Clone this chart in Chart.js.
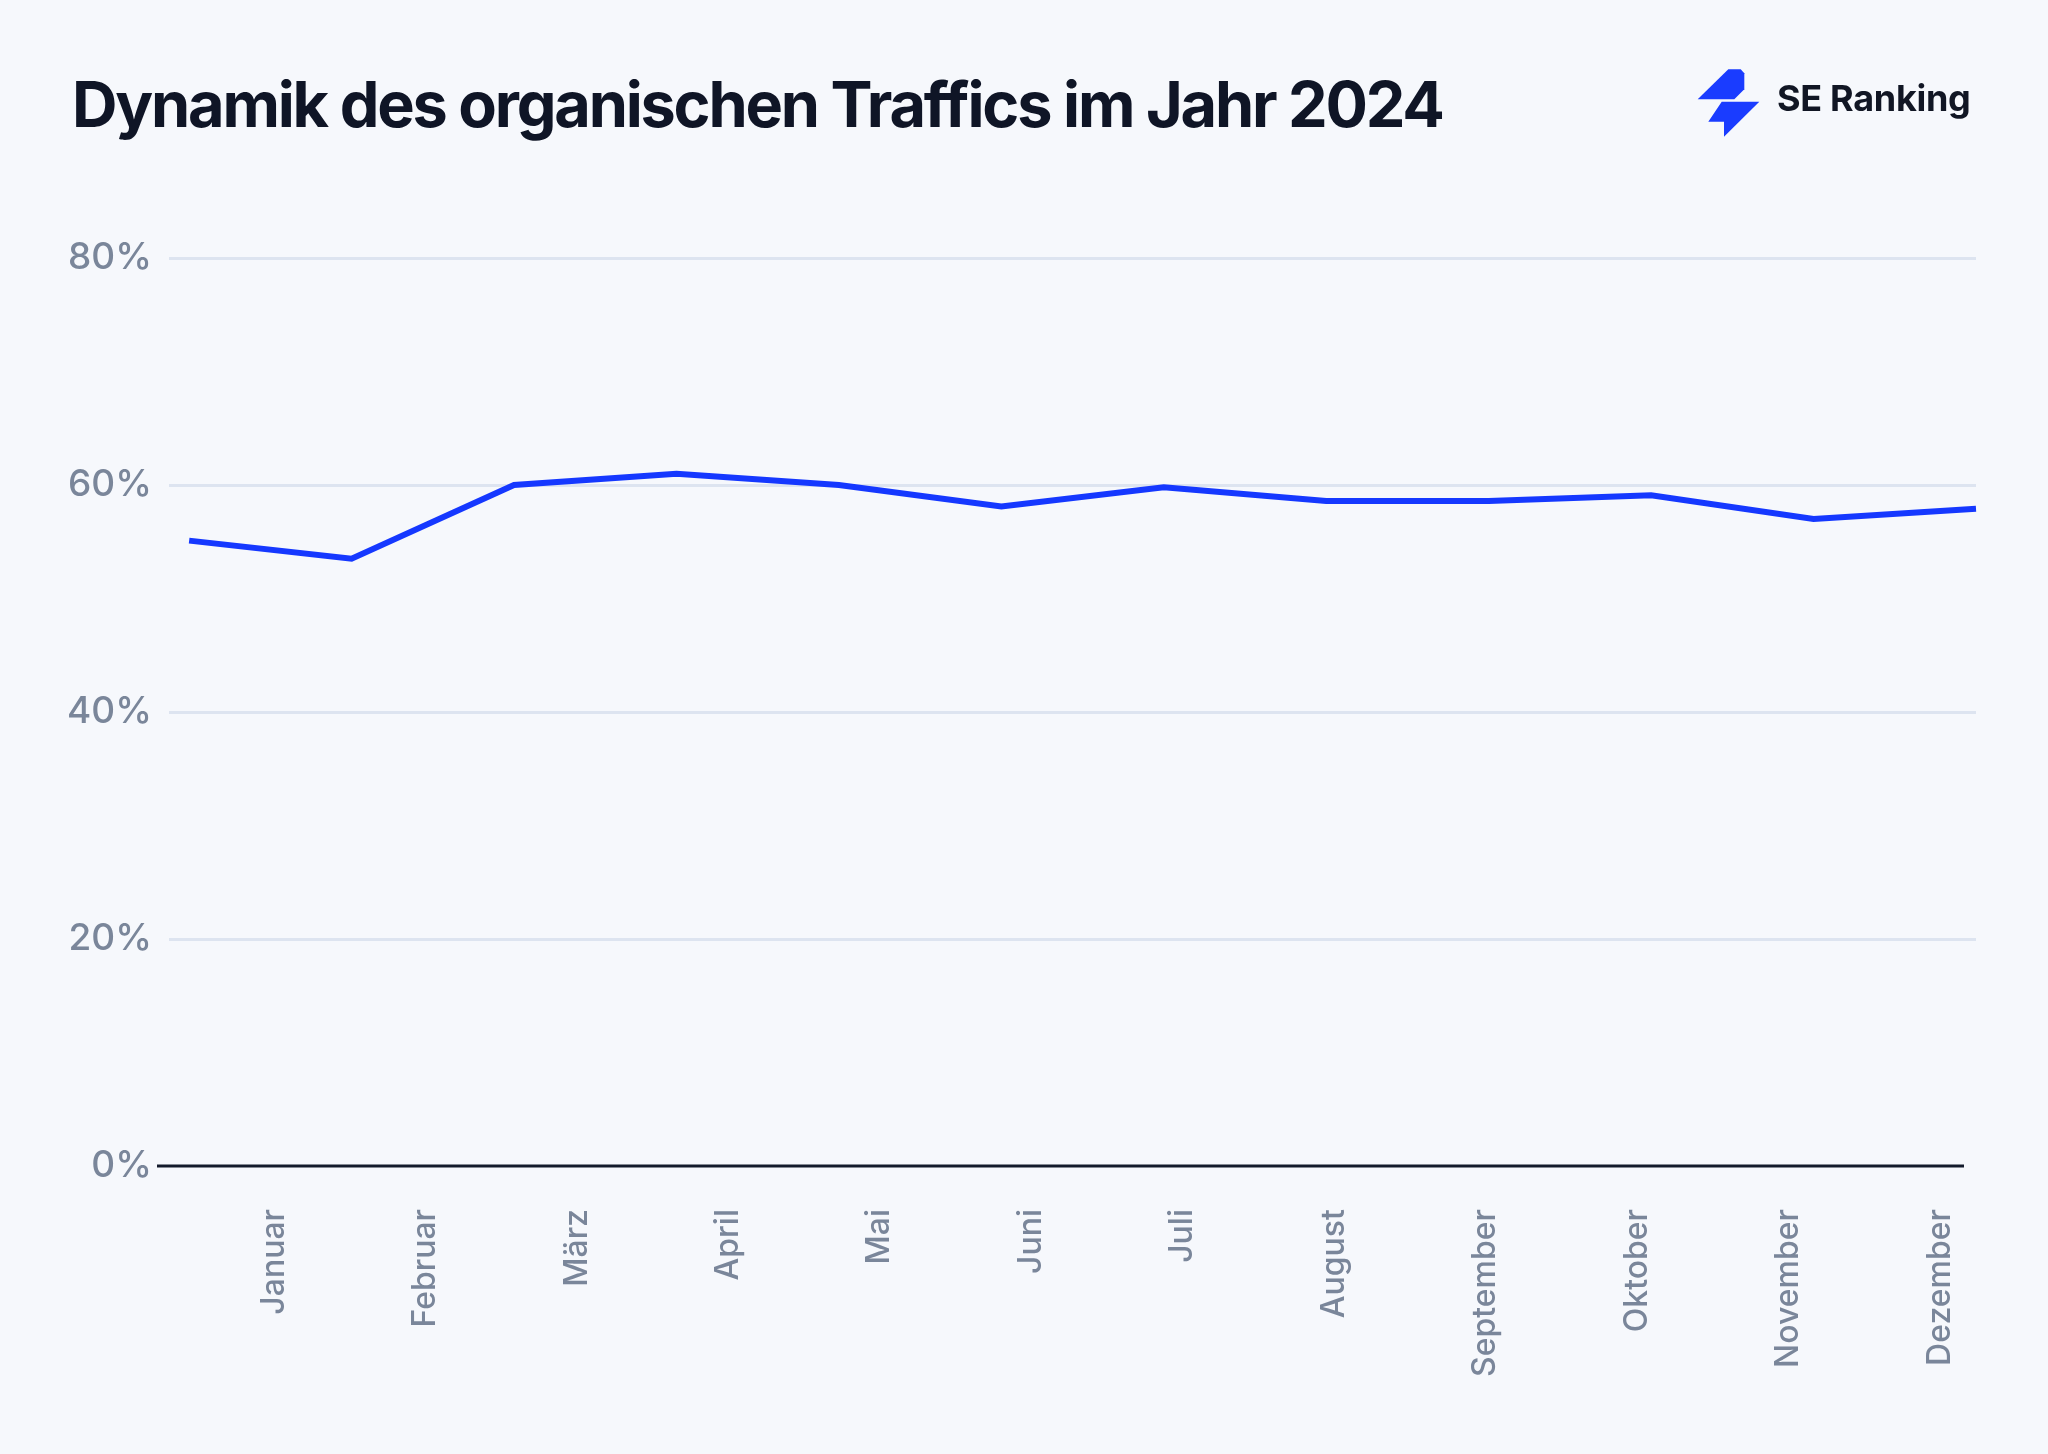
<!DOCTYPE html>
<html>
<head>
<meta charset="utf-8">
<script src="https://cdn.jsdelivr.net/npm/chart.js@4.4.1/dist/chart.umd.min.js"></script>
<style>
  body { margin: 0; background: #f6f8fc; }
  #wrap { position: relative; width: 2048px; height: 1454px; background: #f6f8fc; overflow: hidden; }
  #title {
    position: absolute; left: 72px; top: 73px;
    font: 700 63px/63px Inter, sans-serif; color: #0f1526; letter-spacing: -2.2px;
    white-space: nowrap;
  }
  #brand {
    position: absolute; left: 1777px; top: 80px;
    font: 700 36px/36px Inter, sans-serif; color: #111624; letter-spacing: -0.3px; white-space: nowrap;
  }
  #logo { position: absolute; left: 0; top: 0; }
  canvas { position: absolute; left: 0; top: 0; }
</style>
</head>
<body>
<div id="wrap">
  <canvas id="trafficChart" width="2048" height="1454"></canvas>
  <div id="title">Dynamik des organischen Traffics im Jahr 2024</div>
  <svg id="logo" width="2048" height="160">
    <polygon fill="#1a3cff" points="1697.7,99.3 1728.3,69.3 1740.7,69.3 1744.3,73.3 1744.3,89.3 1734.3,99.3"/>
    <polygon fill="#1a3cff" points="1721.7,101.7 1759.3,101.7 1724,136.7 1724,121.7 1708.3,121.7"/>
  </svg>
  <div id="brand">SE Ranking</div>
</div>
<script>
// Monatswerte (%)
var months = ['Januar', 'Februar', 'März', 'April', 'Mai', 'Juni', 'Juli',
              'August', 'September', 'Oktober', 'November', 'Dezember'];
var traffic = [55.1, 53.5, 60.0, 61.0, 60.0, 58.1, 59.8, 58.6, 58.6, 59.1, 57.0, 57.9];
var yTicks = [0, 20, 40, 60, 80];

Chart.defaults.font.family = 'Inter, sans-serif';

// dunkle Nulllinie, leicht nach links versetzt wie im Original
var baseline = {
	id: 'baseline',
	beforeDatasetsDraw: function(chart) {
		var ctx = chart.ctx,
		    area = chart.chartArea,
		    y = chart.scales.y.getPixelForValue(0);
		ctx.save();
		ctx.strokeStyle = '#131a2b';
		ctx.lineWidth = 3;
		ctx.beginPath();
		ctx.moveTo(area.left - 12, y);
		ctx.lineTo(area.right - 12, y);
		ctx.stroke();
		ctx.restore();
	}
};

function drawChart() {
	var ctx = document.getElementById('trafficChart');
	new Chart(ctx, {
		type: 'line',
		data: {
			datasets: [{
				label: 'Traffic',
				data: traffic.map(function(v, i) { return { x: i, y: v }; }),
				borderColor: '#1538ff',
				borderWidth: 6,
				pointRadius: 0,
				tension: 0,
				clip: false,
				xAxisID: 'x',
				yAxisID: 'y'
			}]
		},
		plugins: [baseline],
		options: {
			responsive: false,
			animation: false,
			layout: { padding: { top: 258, right: 72, bottom: 0, left: 0 } },
			plugins: { legend: { display: false }, tooltip: { enabled: false } },
			scales: {
				x: {
					type: 'linear', display: false, min: -0.124, max: 11
				},
				xl: {
					type: 'linear', position: 'bottom', min: -0.6933, max: 11.2377,
					grid: { display: false, drawTicks: false },
					border: { display: false },
					afterBuildTicks: function(s) {
						s.ticks = months.map(function(m, i) { return { value: i }; });
					},
					afterFit: function(s) { s.height = 288; },
					ticks: {
						autoSkip: false, minRotation: 90, maxRotation: 90, padding: 43,
						color: '#7a869a', font: { size: 32, weight: 500 },
						callback: function(v) { return months[v]; }
					}
				},
				y: {
					min: 0, max: 80,
					afterBuildTicks: function(s) {
						s.ticks = yTicks.map(function(v) { return { value: v }; });
					},
					afterFit: function(s) { s.width = 169; },
					border: { display: false },
					grid: {
						drawTicks: false, lineWidth: 3,
						color: function(c) { return c.tick.value === 0 ? 'rgba(0,0,0,0)' : '#dde4f0'; }
					},
					ticks: {
						padding: 17, color: '#7a869a', font: { size: 37, weight: 500 },
						callback: function(v) { return v + '%'; }
					}
				}
			}
		}
	});
}

document.fonts.load('500 32px Inter').then(drawChart, drawChart);
</script>
</body>
</html>
